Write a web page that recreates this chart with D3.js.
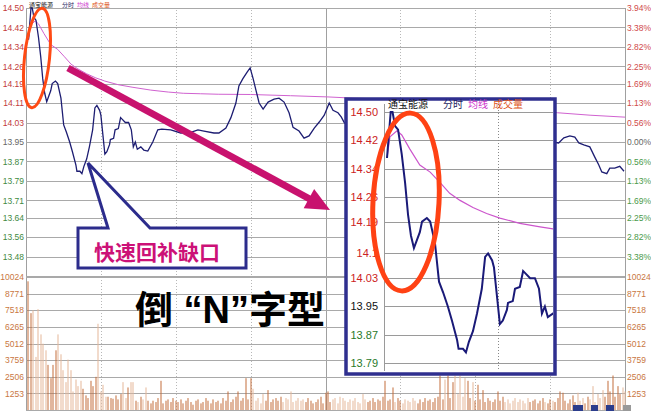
<!DOCTYPE html>
<html><head><meta charset="utf-8">
<script src="https://cdn.jsdelivr.net/npm/d3@7"></script>
<style>body{margin:0;background:#fff}svg{display:block}</style>
</head><body>
<svg id="c" width="651" height="411"></svg>
<script>
// ---------- data ----------
const priceTicks = [14.50,14.42,14.34,14.26,14.19,14.11,14.03,13.95,13.87,13.79,13.71,13.64,13.56,13.48];
const pctTicks = ["3.94%","3.38%","2.82%","2.25%","1.69%","1.13%","0.56%","0.00%","0.56%","1.13%","1.69%","2.25%","2.82%","3.38%"];
const volTicks = [10024,8771,7518,6265,5012,3759,2506,1253];
const timeTicks = [0,30,60,90,120,150,180,210,240];
const insetTicks = [14.50,14.42,14.34,14.26,14.19,14.1,14.03,13.95,13.87,13.79];
const insetTickLabels = ["14.50","14.42","14.34","14.26","14.19","14.1","14.03","13.95","13.87","13.79"];
const prevClose = 13.95;

const priceMin = [0,1,1.5,2.2,3,4,4.9,5.7,6.5,7.3,8.9,9.5,10.8,11.7,13,14.1,15.2,16.5,17.6,19,19.4,20.6,21.4,22.2,23.3,24.4,25.7,26.6,27.4,28.5,29,29.8,30.6,31.4,32.5,32.8,34.1,34.7,36,36.9,37.4,38.8,40.1,41.2,42,42.8,43.6,45,46.2,47.8,49.8,51.8,53.4,57,61,65,67.9,70.3,74.3,76.3,79.1,81.1,83.1,84.3,85.9,87.6,88.8,90,91.2,92.4,94,96,98.4,100.4,102.4,104.4,106,108.4,110.4,112.4,114.5,116.5,118.5,120.5,122,124,125.3,126.5,130,135,140,145,150,155,160,165,170,175,180,185,190,195,200,205,210,212.4,214.5,216.9,218.9,220.5,222.5,224.9,226.9,228.5,229.7,231.7,232.9,234.9,236.9,238.6];
const priceVal = [14.37,14.50,14.50,14.46,14.45,14.38,14.30,14.21,14.15,14.115,14.16,14.19,14.20,14.19,14.13,14.02,13.99,13.95,13.91,13.855,13.83,13.83,13.82,13.85,13.88,13.93,14.00,14.09,14.10,14.08,14.06,13.98,13.90,13.91,13.94,13.96,13.965,14.00,14.005,14.05,14.045,14.03,14.03,14.00,13.93,13.95,13.92,13.93,13.917,13.913,13.95,14.00,14.003,14.00,13.987,13.99,14.00,13.995,13.987,13.987,14.007,14.05,14.11,14.18,14.21,14.237,14.254,14.21,14.16,14.11,14.085,14.114,14.126,14.13,14.114,14.07,14.01,13.995,13.966,13.975,14.007,14.032,14.06,14.11,14.08,14.07,14.053,14.03,14.00,13.97,13.98,14.02,14.00,13.97,13.99,14.03,14.01,13.98,13.96,13.99,14.01,13.98,13.95,13.97,13.95,13.946,13.967,13.975,13.97,13.946,13.938,13.93,13.888,13.856,13.827,13.82,13.843,13.843,13.85,13.83];

const avgMin = [0,0.8,2.7,4,6.2,8.9,11.7,14.4,17,19.8,23.3,27,30.6,36,41.5,49,56,62,69,76,89,105,120,130,141,160,180,200,212,225,239];
const avgVal = [14.37,14.43,14.447,14.435,14.395,14.35,14.33,14.30,14.27,14.25,14.23,14.213,14.20,14.185,14.175,14.163,14.155,14.15,14.148,14.146,14.145,14.14,14.135,14.13,14.127,14.115,14.10,14.085,14.07,14.06,14.052];

const volume = [
9700,7300,7500,4000,7600,5700,5000,4500,3400,2400,
3400,4500,5700,4200,3000,2100,3800,3000,1400,2300,
1800,2200,1600,1100,900,2200,1800,2500,6500,1400,
1900,1000,1000,900,850,1100,800,1200,2100,900,
1700,2100,2100,700,600,1000,800,1700,700,500,
700,600,900,2200,500,700,800,600,900,700,
600,800,500,700,900,600,400,700,800,500,
600,900,700,500,800,600,700,500,900,700,
1400,600,800,1000,1400,700,900,2400,800,2400,
1600,700,900,500,1200,700,1500,600,800,900,
700,1000,600,900,800,1400,600,700,900,700,
800,600,900,700,500,600,800,1000,500,1300,
1400,600,800,900,500,1000,900,700,600,800,
700,900,600,500,1200,800,600,700,900,600,
800,700,1000,2200,700,800,1700,600,900,700,
500,800,700,600,900,700,500,800,600,900,
700,800,600,900,1000,2600,800,2300,2600,900,
2100,2600,1200,2600,1000,2400,2200,900,2100,700,
1900,800,1500,600,900,700,600,800,1400,700,
1000,600,800,500,700,900,600,800,700,500,
900,600,700,800,500,700,900,600,500,800,
700,600,900,1400,1300,700,500,800,1100,600,
1300,700,900,500,1000,800,1800,600,1200,900,
1500,1000,2200,1400,2600,1000,1800,1200,1700,1400];

// ---------- chart ----------
const svg = d3.select("#c");
const X0 = 26, X1 = 625, W = X1 - X0;
const x = d3.scaleLinear().domain([0,240]).range([X0,X1]);
const y = d3.scaleLinear().domain([13.40,14.50]).range([276,8]);
const yv = d3.scaleLinear().domain([0,10024]).range([410,277]);
const FONT = "'Liberation Sans', Arial, sans-serif";
const CJK = "'Noto Sans CJK SC', sans-serif";
const gridCol = "#a9a9a9";
const red = "#c23a3a", green = "#3f8a3f", gray = "#666", orange = "#c9773f";

function styleAxis(g, colorFn, fs) {
  g.select(".domain").remove();
  g.selectAll(".tick line").attr("stroke", gridCol).attr("shape-rendering","crispEdges");
  g.selectAll(".tick text").attr("font-family", FONT).attr("font-size", fs)
    .attr("fill", (d,i) => colorFn(d,i));
}
const priceColor = (d) => Math.abs(d - prevClose) < 0.001 ? gray : (d > prevClose ? red : green);

// vertical time grid
const gx = svg.append("g").attr("transform", "translate(0,410)")
  .call(d3.axisBottom(x).tickValues(timeTicks).tickSize(-402).tickFormat(""));
gx.select(".domain").remove();
gx.selectAll(".tick line").attr("stroke", d => (d===120||d===0||d===240) ? "#a0a0a0" : "#b8b8b8")
  .attr("stroke-dasharray", d => (d===120||d===0||d===240) ? null : "1,2")
  .attr("shape-rendering","crispEdges");

// price grid + left labels
const gl = svg.append("g").attr("transform", `translate(${X0},0)`)
  .call(d3.axisLeft(y).tickValues(priceTicks).tickSize(-W).tickPadding(2).tickFormat(d3.format(".2f")));
styleAxis(gl, priceColor, 8.5);
// right pct labels
const gr = svg.append("g").attr("transform", `translate(${X1},0)`)
  .call(d3.axisRight(y).tickValues(priceTicks).tickSize(0).tickPadding(2).tickFormat((d,i) => pctTicks[i]));
styleAxis(gr, (d,i) => i < 7 ? "#d04a4a" : (i === 7 ? gray : "#4a9a4a"), 8.5);

// volume grid + labels
const gvl = svg.append("g").attr("transform", `translate(${X0},0)`)
  .call(d3.axisLeft(yv).tickValues(volTicks).tickSize(-W).tickPadding(2).tickFormat(d3.format("d")));
styleAxis(gvl, () => orange, 8.5);
const gvr = svg.append("g").attr("transform", `translate(${X1},0)`)
  .call(d3.axisRight(yv).tickValues(volTicks).tickSize(0).tickPadding(2).tickFormat(d3.format("d")));
styleAxis(gvr, () => orange, 8.5);
svg.append("line").attr("x1",X0).attr("x2",X1).attr("y1",410.5).attr("y2",410.5).attr("stroke",gridCol);
svg.append("line").attr("x1",X0).attr("x2",X1).attr("y1",276.5).attr("y2",276.5).attr("stroke",gridCol);

// volume bars (colour by tick direction)
const pAt = d3.scaleLinear().domain(priceMin).range(priceVal);
svg.append("g").selectAll("rect").data(volume).join("rect")
  .attr("x", (d,i) => Math.round(x(i+1)) - 0.5)
  .attr("width", 1)
  .attr("y", d => yv(d))
  .attr("height", d => yv(0) - yv(d))
  .attr("fill", (d,i) => (i === 0 || pAt(i) >= pAt(i-1) - 0.004) ? "#c46f3c" : "#e6b899");

// avg line + price line
const avgData = avgMin.map((t,i) => ({t, p: avgVal[i]}));
const priceData = priceMin.map((t,i) => ({t, p: priceVal[i]}));
const lineMain = d3.line().x(d => x(d.t + 1)).y(d => y(d.p));
svg.append("path").datum(avgData).attr("d", lineMain).attr("fill","none").attr("stroke","#d062d0").attr("stroke-width",1);
svg.append("path").datum(priceData).attr("d", lineMain).attr("fill","none").attr("stroke","#1d1d72").attr("stroke-width",1.3);

// title
function title(xp, yp, fs) {
  const t = svg.append("text").attr("x", xp).attr("y", yp).attr("font-family", CJK).attr("font-size", fs);
  t.append("tspan").attr("fill","#111").text("通宝能源");
  t.append("tspan").attr("fill","#1d1d60").attr("dx", fs*1.5).text("分时");
  t.append("tspan").attr("fill","#cc33cc").attr("dx", fs*0.5).text("均线");
  t.append("tspan").attr("fill","#dd5522").attr("dx", fs*0.5).text("成交量");
}
title(29, 7, 6);

// ---------- annotations ----------
svg.append("ellipse").attr("cx",37).attr("cy",58).attr("rx",12.5).attr("ry",50)
  .attr("transform","rotate(6,37,58)")
  .attr("fill","none").attr("stroke","#ff4a14").attr("stroke-width",3);

// magenta arrow
const A0 = [68,68], A1 = [330,210];
const dx = A1[0]-A0[0], dy = A1[1]-A0[1], L = Math.hypot(dx,dy), ux = dx/L, uy = dy/L;
const bc = [A1[0]-24*ux, A1[1]-24*uy];
svg.append("line").attr("x1",A0[0]).attr("y1",A0[1]).attr("x2",bc[0]+2*ux).attr("y2",bc[1]+2*uy)
  .attr("stroke","#c8126e").attr("stroke-width",7);
svg.append("polygon").attr("points", [A1, [bc[0]-11*uy, bc[1]+11*ux], [bc[0]+11*uy, bc[1]-11*ux]].map(p=>p.join(",")).join(" "))
  .attr("fill","#c8126e");

// callout
svg.append("path").attr("d","M78,228 H108 L88,163 L150,228 H246 V268 H78 Z")
  .attr("fill","#fff").attr("stroke","#2c2c8c").attr("stroke-width",3).attr("stroke-linejoin","miter");
svg.append("text").attr("x",94).attr("y",260).attr("font-family",CJK).attr("font-weight","bold")
  .attr("font-size",21).attr("fill","#cc1177").text("快速回补缺口");

// big text
svg.append("text").attr("x",135).attr("y",323).attr("font-family","'Liberation Sans', 'Noto Sans CJK SC', sans-serif")
  .attr("font-weight","bold").attr("font-size",38).attr("fill","#000").text("倒 “N”字型");

// ---------- inset ----------
const IX0 = 384, IX1 = 553;
const ix = d3.scaleLinear().domain([0,45]).range([387,553]);
const iy = d3.scaleLinear().domain([13.79,14.50]).range([363,112]);
svg.append("rect").attr("x",346).attr("y",99).attr("width",209).attr("height",275)
  .attr("fill","#fff").attr("stroke","#2f2f8f").attr("stroke-width",3.5);
const gil = svg.append("g").attr("transform", `translate(${IX0},0)`)
  .call(d3.axisLeft(iy).tickValues(insetTicks).tickSize(-(IX1-IX0)).tickPadding(6).tickFormat((d,i) => insetTickLabels[i]));
styleAxis(gil, d => Math.abs(d-prevClose)<0.001 ? "#111" : (d > prevClose ? "#cc2222" : "#2a7a2a"), 11);
gil.selectAll(".tick line").attr("stroke","#9a9a9a");
svg.append("line").attr("x1",IX0+0.5).attr("x2",IX0+0.5).attr("y1",104).attr("y2",371).attr("stroke","#9a9a9a");
svg.append("line").attr("x1",Math.round(ix(30))+0.5).attr("x2",Math.round(ix(30))+0.5).attr("y1",104).attr("y2",371)
  .attr("stroke","#888").attr("stroke-dasharray","1,2");
title(388, 108, 10);

svg.append("clipPath").attr("id","ic").append("rect").attr("x",IX0).attr("y",101).attr("width",IX1-IX0).attr("height",270);
const lineInset = d3.line().x(d => ix(d.t)).y(d => iy(d.p));
const gi = svg.append("g").attr("clip-path","url(#ic)");
gi.append("path").datum(avgData.filter(d => d.t <= 50)).attr("d", lineInset).attr("fill","none").attr("stroke","#cc55cc").attr("stroke-width",1.2);
gi.append("path").datum(priceData.filter(d => d.t <= 47)).attr("d", lineInset).attr("fill","none").attr("stroke","#1a1a78").attr("stroke-width",2);

svg.append("ellipse").attr("cx",406).attr("cy",202).attr("rx",33).attr("ry",89)
  .attr("transform","rotate(3,406,202)")
  .attr("fill","none").attr("stroke","#ff4214").attr("stroke-width",5);

// bottom toolbar icons
[[573,10,"#2b3c8c"],[591,7,"#2b3c8c"],[606,8,"#2b3c8c"],[623,8,"#999"]].forEach(([bx,bw,c]) =>
  svg.append("rect").attr("x",bx).attr("y",405).attr("width",bw).attr("height",6).attr("fill",c));
</script>
</body></html>
